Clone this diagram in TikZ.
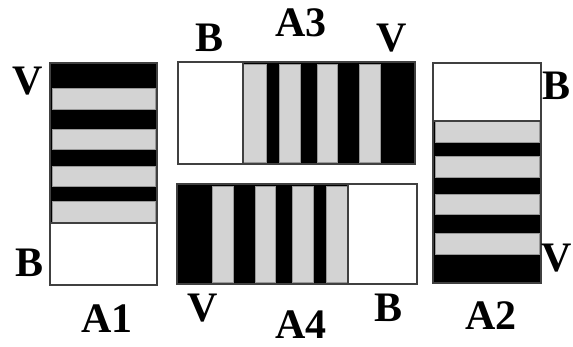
\documentclass[tikz,border=0pt]{standalone}
\usepackage{fontspec}
\setmainfont{Liberation Serif}
\definecolor{stripegray}{RGB}{211,211,211}
\tikzset{
  lbl/.style = {font=\bfseries\fontsize{42}{42}\selectfont, inner sep=0pt, anchor=base},
  band/.style = {fill=stripegray, draw=gray!80, line width=0.6pt},
  frame/.style = {draw=black!75, line width=1.2pt}
}

\begin{document}
\begin{tikzpicture}[x=1pt, y=-1pt]
\useasboundingbox (0,0) rectangle (573,347);

% A1
\fill (50,63) rectangle (157,223);
\foreach \a/\b in {88/109, 129/149, 166/186, 201/223}
  \draw[band] (52,\a) rectangle (155,\b);
\draw[frame, fill = white] (50,223) rectangle (157,285);
\draw[frame] (50,63) rectangle (157,285);
\node[lbl] (a1v) at (27.5,95) {V};
\node[lbl] (a1b) at (30,277) {B};
\node[lbl] (a1) at (107,333) {A1};

% A2
\fill (433,121) rectangle (541,283);
\foreach \a/\b in {121/142, 156/177, 194/214, 233/254}
  \draw[band] (435,\a) rectangle (539,\b);
\draw[frame, fill = white] (433,63) rectangle (541,121);
\draw[frame] (433,63) rectangle (541,283);
\node[lbl] (a2b) at (557,100) {B};
\node[lbl] (a2v) at (557,272) {V};
\node[lbl] (a2) at (491,330) {A2};

% A3
\fill (243,62) rectangle (415,164);
\foreach \a/\b in {243/266, 279/300, 317/337, 359/380}
  \draw[band] (\a,64) rectangle (\b,162);
\draw[frame, fill = white] (178,62) rectangle (243,164);
\draw[frame] (178,62) rectangle (415,164);
\node[lbl] (a3b) at (210,52) {B};
\node[lbl] (a3) at (301,37) {A3};
\node[lbl] (a3v) at (392,52) {V};

% A4
\fill (177,184) rectangle (348,284);
\foreach \a/\b in {212/233, 255/275, 292/313, 326/348}
  \draw[band] (\a,186) rectangle (\b,282);
\draw[frame, fill = white] (348,184) rectangle (417,284);
\draw[frame] (177,184) rectangle (417,284);
\node[lbl] (a4v) at (203,322) {V};
\node[lbl] (a4b) at (389,322) {B};
\node[lbl] (a4) at (301,338) {A4};

\end{tikzpicture}
\end{document}
